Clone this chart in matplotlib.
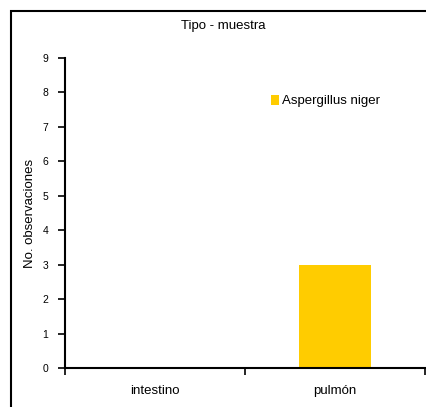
import matplotlib
matplotlib.use("Agg")
import matplotlib.pyplot as plt
from matplotlib.patches import Rectangle

categories = ["intestino", "pulmón"]
series_name = "Aspergillus niger"
values = [0, 3]
yticks = list(range(0, 10))

plt.rcParams["font.family"] = ["Liberation Sans", "DejaVu Sans"]
TXT = 9.5

fig = plt.figure(figsize=(4.27, 4.07), dpi=100)
ax = fig.add_axes([65 / 427, 1 - 368 / 407, 360 / 427, 310 / 407])

x = list(range(len(categories)))
ax.bar(x, values, width=0.4, color="#FFCC00", label=series_name)

ax.set_xlim(-0.5, len(categories) - 0.5)
ax.set_ylim(0, 9)
ax.set_yticks(yticks)
ax.set_xticks(x)
ax.set_xticklabels(categories, fontsize=TXT)
ax.set_xticks([i - 0.5 for i in range(len(categories) + 1)], minor=True)
ax.tick_params(axis="x", which="major", length=0, pad=12)
ax.tick_params(axis="x", which="minor", length=5, width=1.2, direction="out")
ax.tick_params(axis="y", length=5, width=1.2, direction="out", labelsize=7.5, pad=7)

for s in ["top", "right"]:
    ax.spines[s].set_visible(False)
for s in ["left", "bottom"]:
    ax.spines[s].set_linewidth(1.5)

ax.set_ylabel("No. observaciones", fontsize=TXT, labelpad=3)
ax.yaxis.set_label_coords(-29 / 360, 0.5)
fig.text(223 / 427, 1 - 26 / 407, "Tipo - muestra", ha="center", va="center", fontsize=TXT)

ax.legend(loc="upper left", bbox_to_anchor=(0.54, 0.92), frameon=False,
          fontsize=TXT, handlelength=0.6, handleheight=0.8, handletextpad=0.25)

# outer chart border (right/bottom edges fall outside the image)
fig.patches.append(Rectangle((11 / 427, -0.05), 1.1, 1 - 11 / 407 + 0.05,
                             transform=fig.transFigure, fill=False,
                             edgecolor="black", linewidth=1.5))

fig.savefig("out.png", dpi=100)
